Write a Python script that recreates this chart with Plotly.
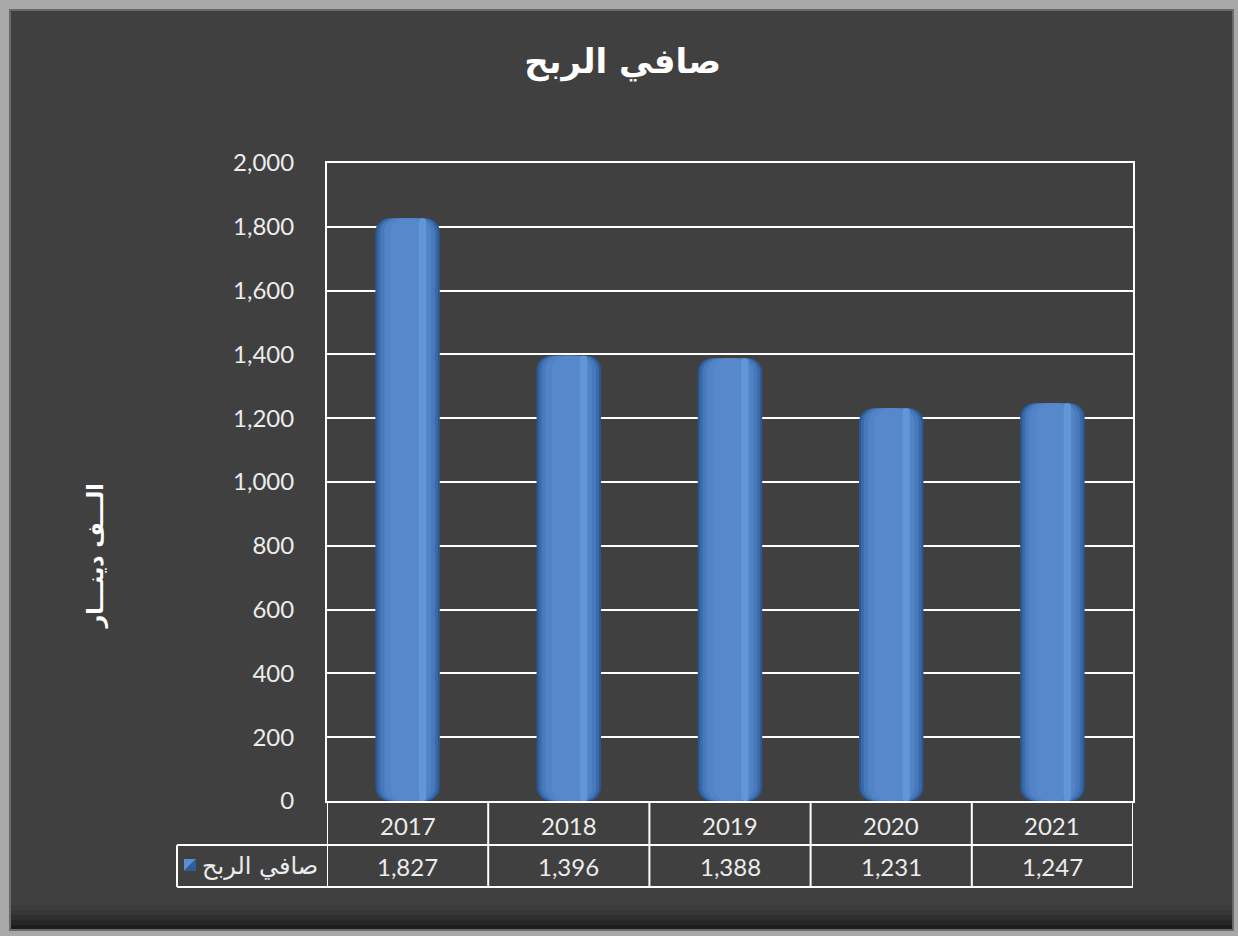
import plotly.graph_objects as go

# ---- data ----
years = ["2017", "2018", "2019", "2020", "2021"]
net_profit = [1827, 1396, 1388, 1231, 1247]
series_name = "صافي الربح"
chart_title = "صافي الربح"
y_title = "الـــف دينـــار"
y_ticks = [0, 200, 400, 600, 800, 1000, 1200, 1400, 1600, 1800, 2000]

W, H = 1238, 936
L, R, T, B = 327, 1133, 163, 801  # plot area in px

def px(x):
    return (x - L) / (R - L)

def py(y):
    return (B - y) / (B - T)

BG = "#404040"
TXT = "#ececec"
fig = go.Figure()

# cylinder-like shading layers: (width, color)
layers = [
    (0.40, "#2c5892"),
    (0.375, "#3a69a9"),
    (0.34, "#4779bb"),
    (0.29, "#5183c6"),
    (0.21, "#5788cb"),
]
zero_base = [0 for _ in net_profit]
for w, c in layers:
    fig.add_trace(go.Bar(
        x=years, y=net_profit, base=zero_base,
        width=w, marker=dict(color=c, cornerradius=14, line=dict(width=0)),
        showlegend=False, hoverinfo="skip"))
# soft highlight stripe right of centre
fig.add_trace(go.Bar(
    x=years, y=net_profit, base=zero_base,
    width=0.045, offset=0.07,
    marker=dict(color="#6196d7", cornerradius=7, line=dict(width=0)),
    showlegend=False, hoverinfo="skip"))

shapes = []
# outer frame
shapes.append(dict(type="rect", xref="paper", yref="paper",
                   x0=px(10), x1=px(1233), y0=py(930), y1=py(10),
                   fillcolor=BG, line=dict(color="#6a6a6a", width=2), layer="below"))
# bottom shadow bands
for i, a in enumerate([0.05, 0.09, 0.13, 0.18, 0.24]):
    shapes.append(dict(type="rect", xref="paper", yref="paper",
                       x0=px(11), x1=px(1232), y0=py(929), y1=py(905 + i * 5),
                       fillcolor=f"rgba(0,0,0,{a})", line=dict(width=0), layer="below"))

# data table lines
row1_bot = 845
row2_bot = 887
line_style = dict(color="#ffffff", width=2)
shapes.append(dict(type="line", xref="paper", yref="paper",
                   x0=px(177), x1=px(R), y0=py(row1_bot), y1=py(row1_bot), line=line_style))
shapes.append(dict(type="line", xref="paper", yref="paper",
                   x0=px(177), x1=px(R), y0=py(row2_bot), y1=py(row2_bot), line=line_style))
shapes.append(dict(type="line", xref="paper", yref="paper",
                   x0=px(177), x1=px(177), y0=py(row2_bot), y1=py(row1_bot), line=line_style))
for i in range(len(years) + 1):
    shapes.append(dict(type="line", xref="x", yref="paper",
                       x0=i - 0.5, x1=i - 0.5, y0=py(row2_bot), y1=0, line=line_style))
# legend key
shapes.append(dict(type="path", xref="paper", yref="paper",
                   path=f"M {px(184)},{py(859)} L {px(196)},{py(859)} L {px(184)},{py(871)} Z",
                   fillcolor="#5b8fd0", line=dict(width=0)))
shapes.append(dict(type="path", xref="paper", yref="paper",
                   path=f"M {px(196)},{py(859)} L {px(196)},{py(871)} L {px(184)},{py(871)} Z",
                   fillcolor="#2f5d98", line=dict(width=0)))

annotations = []
tfont = dict(family="Lato, Open Sans, sans-serif", size=24, color=TXT)
for i, (yr, v) in enumerate(zip(years, net_profit)):
    annotations.append(dict(x=i, y=py((B + row1_bot) / 2 + 2), xref="x", yref="paper",
                            text=yr, showarrow=False, font=tfont, yanchor="middle"))
    annotations.append(dict(x=i, y=py((row1_bot + row2_bot) / 2), xref="x", yref="paper",
                            text=f"{v:,}", showarrow=False, font=tfont, yanchor="middle"))
annotations.append(dict(x=px(320), y=py(866), xref="paper", yref="paper",
                        text=series_name, showarrow=False, xanchor="right", yanchor="middle",
                        font=dict(family="DejaVu Sans", size=24, color=TXT)))
annotations.append(dict(x=px(80), y=py(556), xref="paper", yref="paper",
                        text=f"<b>{y_title}</b>", showarrow=False, textangle=-90,
                        font=dict(family="DejaVu Sans", size=22, color="#ffffff")))

fig.update_layout(
    width=W, height=H,
    margin=dict(l=L, r=W - R, t=T, b=H - B),
    paper_bgcolor="#a8a8a8",
    plot_bgcolor="rgba(0,0,0,0)",
    barmode="overlay",
    title=dict(text=f"<b>{chart_title}</b>", x=0.503, xanchor="center",
               y=1 - 61 / H, yanchor="middle",
               font=dict(family="DejaVu Sans", size=34, color="#ffffff")),
    shapes=shapes,
    annotations=annotations,
    showlegend=False,
    xaxis=dict(type="category", range=[-0.5, 4.5], showticklabels=False, ticks="",
               showgrid=False, showline=True, mirror=True,
               linecolor="#ffffff", linewidth=2, zeroline=False, fixedrange=True),
    yaxis=dict(range=[0, 2000], tickvals=y_ticks, tickformat=",d",
               showgrid=True, gridcolor="#ffffff", gridwidth=2,
               showline=True, mirror=True, linecolor="#ffffff", linewidth=2,
               zeroline=False, ticks="", ticklabelstandoff=26,
               tickfont=dict(family="Lato, Open Sans, sans-serif", size=24, color=TXT),
               fixedrange=True),
)

fig.write_html("out.html", config={"displayModeBar": False},
               post_script="document.body.style.margin='0';document.body.style.padding='0';")
